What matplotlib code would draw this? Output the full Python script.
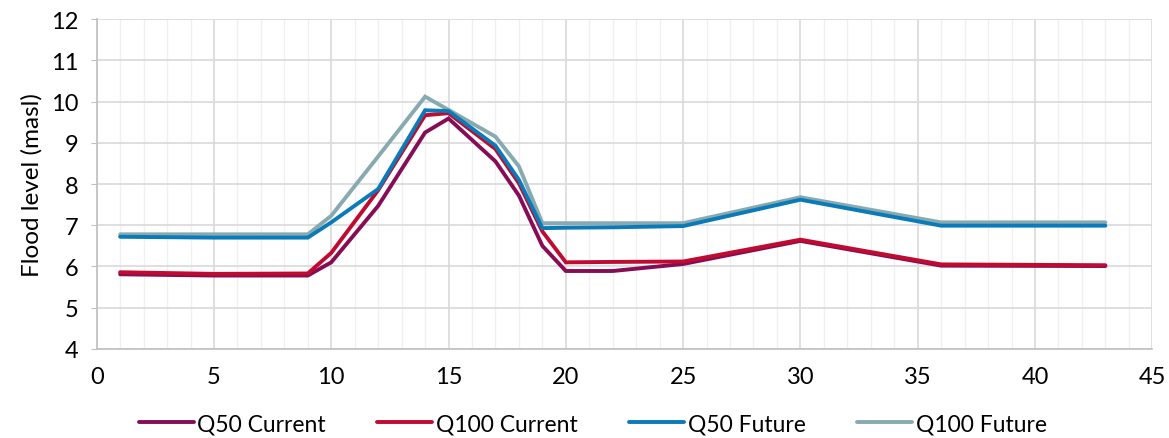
import matplotlib
matplotlib.use("Agg")
import matplotlib.pyplot as plt
from matplotlib.ticker import MultipleLocator

plt.rcParams['font.family'] = ['Lato', 'DejaVu Sans']

# Chainage positions and modelled flood levels (masl)
chainage = [1, 5, 9, 10, 12, 14, 15, 17, 18, 19, 20, 22, 25, 30, 36, 43]
q50_current = [5.81, 5.78, 5.78, 6.10, 7.47, 9.25, 9.59, 8.55, 7.72, 6.50, 5.89, 5.89, 6.06, 6.62, 6.02, 6.01]
q100_current = [5.86, 5.82, 5.83, 6.33, 7.85, 9.67, 9.72, 8.85, 8.02, 6.85, 6.10, 6.11, 6.12, 6.65, 6.05, 6.03]
q50_future = [6.72, 6.70, 6.70, 7.07, 7.88, 9.79, 9.77, 8.93, 8.10, 6.93, 6.94, 6.95, 6.98, 7.62, 6.99, 6.99]
q100_future = [6.78, 6.78, 6.78, 7.23, 8.67, 10.12, 9.80, 9.15, 8.43, 7.05, 7.05, 7.05, 7.05, 7.68, 7.07, 7.07]

series_labels = ['Q50 Current', 'Q100 Current', 'Q50 Future', 'Q100 Future']
series_colors = ['#850C55', '#C00A30', '#0A7AB8', '#86AAB0']

fig = plt.figure(figsize=(11.69, 4.39), dpi=100)
ax = fig.add_axes([0.0827, 0.203, 0.903, 0.751])

lw = 2.8
l1, = ax.plot(chainage, q50_current, color=series_colors[0], lw=lw, zorder=3,
              solid_joinstyle='miter', solid_capstyle='round')
l2, = ax.plot(chainage, q100_current, color=series_colors[1], lw=lw, zorder=4,
              solid_joinstyle='miter', solid_capstyle='round')
l4, = ax.plot(chainage, q100_future, color=series_colors[3], lw=lw, zorder=5,
              solid_joinstyle='miter', solid_capstyle='round')
l3, = ax.plot(chainage, q50_future, color=series_colors[2], lw=lw, zorder=6,
              solid_joinstyle='miter', solid_capstyle='round')

ax.set_xlim(0, 45)
ax.set_ylim(4, 12)
ax.xaxis.set_major_locator(MultipleLocator(5))
ax.xaxis.set_minor_locator(MultipleLocator(1))
ax.yaxis.set_major_locator(MultipleLocator(1))

ax.grid(which='major', axis='both', color='#D9D9D9', lw=1.2, zorder=0)
ax.grid(which='minor', axis='x', color='#F0F0F0', lw=1.0, zorder=0)
ax.set_axisbelow(True)

for side in ['top', 'right']:
    ax.spines[side].set_visible(False)
for side in ['left', 'bottom']:
    ax.spines[side].set_color('#BFBFBF')
    ax.spines[side].set_linewidth(1.2)

ax.tick_params(axis='y', which='major', length=4, color='#BFBFBF', labelsize=17, pad=9)
ax.tick_params(axis='x', which='major', length=0, labelsize=17, pad=12)
ax.tick_params(axis='x', which='minor', length=0)

ax.set_ylabel('Flood level (masl)', fontsize=17.5, labelpad=6)

fig.legend([l1, l2, l3, l4], series_labels, loc='center', ncol=4,
           bbox_to_anchor=(0.507, 0.033), frameon=False, fontsize=16.5,
           handlelength=2.4, handletextpad=0.15, columnspacing=2.25)

fig.savefig('out.png', dpi=100)
